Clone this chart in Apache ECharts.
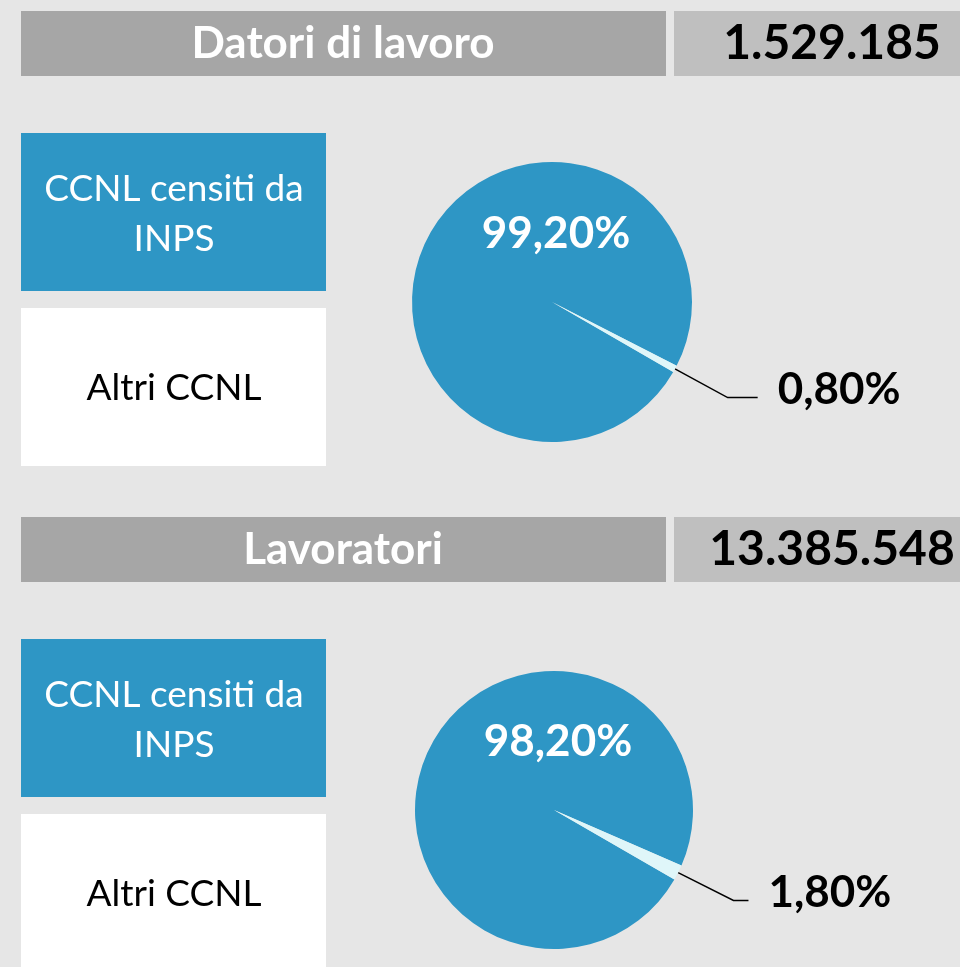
<!DOCTYPE html>
<html>
<head>
<meta charset="utf-8">
<script src="https://cdn.jsdelivr.net/npm/echarts@6/dist/echarts.min.js"></script>
<style>
    html, body { margin: 0; padding: 0; background: #e6e6e6; }
    #chart { width: 960px; height: 967px; }
</style>
</head>
<body>
<div id="chart"></div>
<script>
    // dati
    var titles = ['Datori di lavoro', 'Lavoratori']
    var totals = ['1.529.185', '13.385.548']
    var categories = ['CCNL censiti da\nINPS', 'Altri CCNL']
    var shareDatori = [99.2, 0.8]
    var shareLavoratori = [98.2, 1.8]

    var BLUE = '#2e96c5'
    var LIGHT = '#dff6f9'
    var FONT = 'Lato'

    function pct(v) {
        return v.toFixed(2).replace('.', ',') + '%'
    }

    // one block = header + two category boxes + pie
    function block(i, top, values, center, radius, lineLen, lineLen2) {
        var graphics = [
            { type: 'rect', shape: { x: 21, y: top, width: 645, height: 65 }, style: { fill: '#a6a6a6' } },
            { type: 'rect', shape: { x: 674, y: top, width: 300, height: 65 }, style: { fill: '#bfbfbf' } },
            {
                type: 'text', x: 343, y: top + 33,
                style: { text: titles[i], fill: '#fff', font: 'bold 44px ' + FONT, align: 'center', verticalAlign: 'middle' }
            },
            {
                type: 'text', x: 832, y: top + 33,
                style: { text: totals[i], fill: '#000', font: 'bold 48px ' + FONT, align: 'center', verticalAlign: 'middle' }
            },
            { type: 'rect', shape: { x: 21, y: top + 122, width: 305, height: 158 }, style: { fill: BLUE } },
            { type: 'rect', shape: { x: 21, y: top + 297, width: 305, height: 158 }, style: { fill: '#fff' } },
            {
                type: 'text', x: 174, y: top + 203,
                style: { text: categories[0], fill: '#fff', font: '37px ' + FONT, align: 'center', verticalAlign: 'middle', lineHeight: 50 }
            },
            {
                type: 'text', x: 174, y: top + 377,
                style: { text: categories[1], fill: '#000', font: '37px ' + FONT, align: 'center', verticalAlign: 'middle' }
            }
        ]

        var series = {
            type: 'pie',
            center: center,
            radius: radius,
            startAngle: -30,
            clockwise: true,
            avoidLabelOverlap: false,
            silent: true,
            label: { fontFamily: FONT, fontWeight: 'bold', fontSize: 44 },
            labelLayout: function (p) {
                if (p.dataIndex === 0) return { x: center[0] + 4, y: center[1] - 68, align: 'center', verticalAlign: 'middle' }
                return {}
            },
            data: [
                {
                    name: 'CCNL censiti da INPS', value: values[0],
                    itemStyle: { color: BLUE },
                    label: { show: true, position: 'inside', color: '#fff', formatter: function (p) { return pct(p.value) } },
                    labelLine: { show: false }
                },
                {
                    name: 'Altri CCNL', value: values[1],
                    itemStyle: { color: LIGHT },
                    label: {
                        show: true, position: 'outside', color: '#000', distanceToLabelLine: 20,
                        // empty second line lifts the text above the leader line
                        formatter: function (p) { return '{v|' + pct(p.value) + '}\n{s|}' },
                        rich: {
                            v: { fontFamily: FONT, fontWeight: 'bold', fontSize: 44, color: '#000' },
                            s: { height: 16, fontSize: 1 }
                        }
                    },
                    labelLine: { show: true, length: lineLen, length2: lineLen2, smooth: false, lineStyle: { color: '#000', width: 1.5 } }
                }
            ]
        }
        return { graphics: graphics, series: series }
    }

    var b1 = block(0, 11, shareDatori, [552, 302], 140, 60, 30)
    var b2 = block(1, 517, shareLavoratori, [554, 810], 139, 62, 15)

    var myChart = echarts.init(document.getElementById('chart'))
    myChart.setOption({
        backgroundColor: '#e6e6e6',
        animation: false,
        graphic: b1.graphics.concat(b2.graphics),
        series: [b1.series, b2.series]
    })
</script>
</body>
</html>
